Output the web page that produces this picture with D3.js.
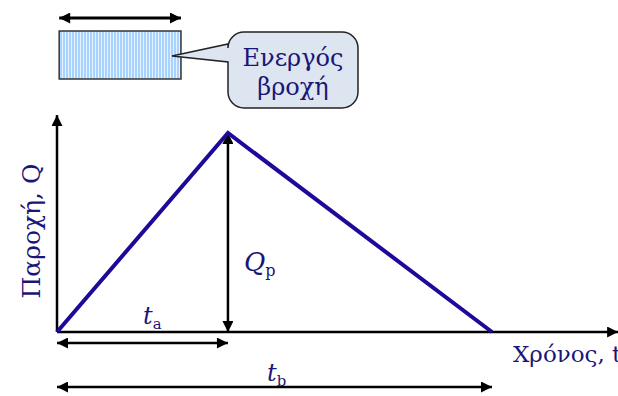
<!DOCTYPE html>
<html>
<head>
<meta charset="utf-8">
<script src="https://cdn.jsdelivr.net/npm/d3@7"></script>
<style>
  body { margin: 0; background: #fff; }
  svg { display: block; }
  text { font-family: "DejaVu Serif", serif; fill: #1a1677; }
</style>
</head>
<body>
<svg id="chart" width="618" height="396"></svg>
<script>
// hydrograph (triangle): time vs discharge, arbitrary units
const times = [0, 3.93, 10];
const flows = [0, 1, 0];
const timeEnd = 12.9;   // end of x axis
const flowTop = 1.09;   // end of y axis
// rain block spans this time range
const rainSpan = [0.05, 2.85];

const W = 618, H = 396;
const ORIGIN = { x: 57, y: 332 };

const svg = d3.select("#chart");

const x = d3.scaleLinear().domain([0, times[2]]).range([ORIGIN.x, 492]);
const y = d3.scaleLinear().domain([0, flows[1]]).range([ORIGIN.y, 133]);

const defs = svg.append("defs");
defs.append("marker")
  .attr("id", "arrow")
  .attr("viewBox", "0 0 10 10")
  .attr("refX", 10).attr("refY", 5)
  .attr("markerWidth", 12).attr("markerHeight", 11)
  .attr("markerUnits", "userSpaceOnUse")
  .attr("orient", "auto-start-reverse")
  .append("path")
  .attr("d", "M0,0 L10,5 L0,10 Z")
  .attr("fill", "#000");

const stripes = defs.append("pattern")
  .attr("id", "stripes")
  .attr("patternUnits", "userSpaceOnUse")
  .attr("width", 3).attr("height", 10);
stripes.append("rect").attr("width", 3).attr("height", 10).attr("fill", "#e6f2ff");
stripes.append("rect").attr("width", 2).attr("height", 10).attr("fill", "#a9d3ff");

function arrowLine(x1, y1, x2, y2, both, w) {
  const l = svg.append("line")
    .attr("x1", x1).attr("y1", y1).attr("x2", x2).attr("y2", y2)
    .attr("stroke", "#000").attr("stroke-width", w || 2.5)
    .attr("marker-end", "url(#arrow)");
  if (both) l.attr("marker-start", "url(#arrow)");
  return l;
}

// axes
arrowLine(x(0), y(0), x(timeEnd), y(0));
arrowLine(x(0), y(0), x(0), y(flowTop));

// peak height arrow Qp
arrowLine(x(times[1]), y(0), x(times[1]), y(flows[1]), true);

// ta and tb arrows
arrowLine(x(0), 343, x(times[1]), 343, true);
arrowLine(x(0), 387, x(times[2]), 387, true);

// rain block + its arrow
svg.append("rect")
  .attr("x", x(rainSpan[0])).attr("y", 31)
  .attr("width", x(rainSpan[1]) - x(rainSpan[0])).attr("height", 48)
  .attr("fill", "url(#stripes)")
  .attr("stroke", "#333").attr("stroke-width", 1.5);
arrowLine(x(rainSpan[0]), 18, x(rainSpan[1]), 18, true, 3);

// hydrograph line
svg.append("path")
  .datum(times.map((t, i) => [t, flows[i]]))
  .attr("fill", "none")
  .attr("stroke", "#1d0a99")
  .attr("stroke-width", 4)
  .attr("stroke-linejoin", "miter")
  .attr("d", d3.line().x(d => x(d[0])).y(d => y(d[1])));

// callout bubble
const bx = 228, by = 32, bw = 130, bh = 76, r = 16;
const tip = [172, 56];
const bubble = d3.path();
bubble.moveTo(bx + r, by);
bubble.lineTo(bx + bw - r, by);
bubble.arcTo(bx + bw, by, bx + bw, by + r, r);
bubble.lineTo(bx + bw, by + bh - r);
bubble.arcTo(bx + bw, by + bh, bx + bw - r, by + bh, r);
bubble.lineTo(bx + r, by + bh);
bubble.arcTo(bx, by + bh, bx, by + bh - r, r);
bubble.lineTo(bx, 62);
bubble.lineTo(tip[0], tip[1]);
bubble.lineTo(bx, 44);
bubble.lineTo(bx, by + r);
bubble.arcTo(bx, by, bx + r, by, r);
bubble.closePath();
svg.append("path")
  .attr("d", bubble.toString())
  .attr("fill", "#dde5f1")
  .attr("stroke", "#222").attr("stroke-width", 1.5);

svg.append("text").attr("x", 293).attr("y", 66)
  .attr("text-anchor", "middle").attr("font-size", 24).text("Ενεργός");
svg.append("text").attr("x", 293).attr("y", 95)
  .attr("text-anchor", "middle").attr("font-size", 24).text("βροχή");

// axis titles
svg.append("text")
  .attr("transform", "translate(40,231) rotate(-90)")
  .attr("text-anchor", "middle").attr("font-size", 25)
  .text("Παροχή, Q");
svg.append("text").attr("x", 513).attr("y", 362)
  .attr("font-size", 23).text("Χρόνος, t");

// symbol labels
function symbol(px, py, main, sub, size) {
  const t = svg.append("text").attr("x", px).attr("y", py).attr("font-size", size);
  t.append("tspan").attr("font-style", "italic").text(main);
  t.append("tspan").attr("dy", 5).attr("font-size", size * 0.62).text(sub);
}
symbol(244, 271, "Q", "p", 26);
symbol(143, 324, "t", "a", 24);
symbol(267, 381, "t", "b", 24);
</script>
</body>
</html>
